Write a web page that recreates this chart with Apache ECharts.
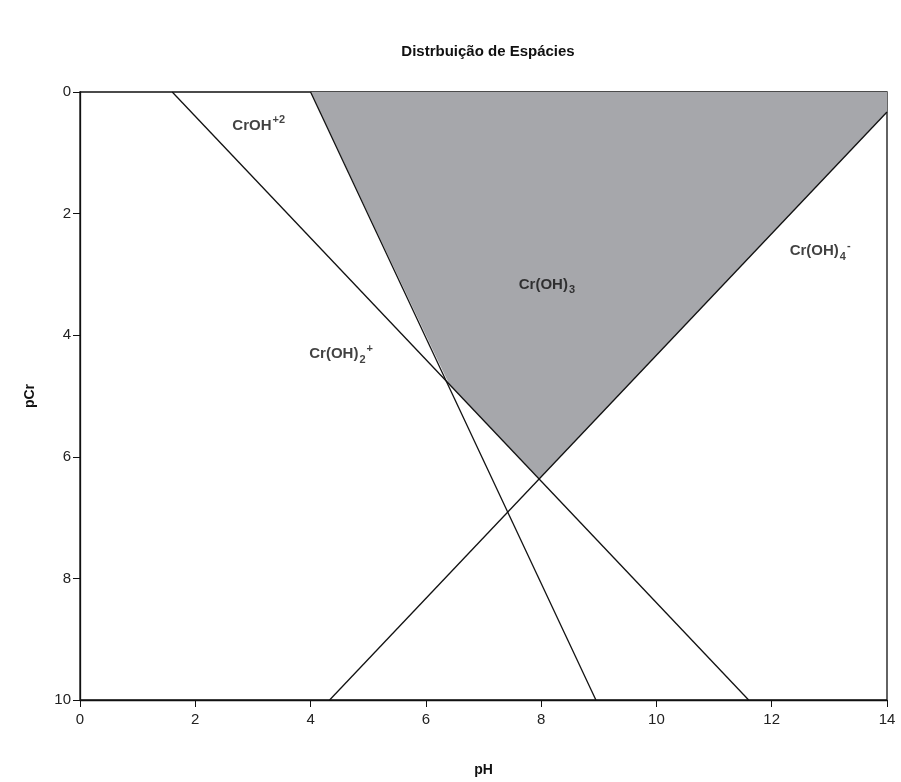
<!DOCTYPE html>
<html><head><meta charset="utf-8">
<script src="https://cdn.jsdelivr.net/npm/echarts@6/dist/echarts.min.js"></script>
<style>html,body{margin:0;padding:0;background:#fff}#c{width:901px;height:782px}</style>
</head><body><div id="c"></div>
<script>
var xTicks = [0, 2, 4, 6, 8, 10, 12, 14];
var yTicks = [0, 2, 4, 6, 8, 10];
var line1 = [[1.6, 0], [11.6, 10]];
var line2 = [[4.0, 0], [8.95, 10]];
var line3 = [[4.33, 10], [14, 0.33]];
var regionOH3 = [[4.0, 0], [14, 0], [14, 0.33], [7.97, 6.36], [6.4, 4.8]];
var labelNames = ['CrOH+2', 'Cr(OH)3', 'Cr(OH)2+', 'Cr(OH)4-'];
var labelPos = [[3.1, 0.55], [8.1, 3.17], [4.53, 4.31], [12.84, 2.62]];
var labelRich = [
  '{b|CrOH}{sup|+2}',
  '{b|Cr(OH)}{sub|3}',
  '{b|Cr(OH)}{sub|2}{sup|+}',
  '{b|Cr(OH)}{sub|4}{sup|-}'
];

var chart = echarts.init(document.getElementById('c'));
var font = 'Liberation Sans, Arial, sans-serif';
var lineStyle = {color: '#111', width: 1.3};
function lineSeries(d) {
  return {type: 'line', data: d, symbol: 'none', lineStyle: lineStyle, z: 3, silent: true};
}
chart.setOption({
  animation: false,
  title: {text: 'Distrbuição de Espácies', left: 483, textAlign: 'center', top: 39,
    textStyle: {fontFamily: font, fontWeight: 'bold', fontSize: 15, color: '#111'}},
  grid: {left: 80, right: 14, top: 92, bottom: 77, show: true, borderColor: '#111', borderWidth: 1.3},
  xAxis: {type: 'value', min: 0, max: 14, interval: 2, position: 'bottom',
    name: 'pH', nameLocation: 'middle', nameGap: 63,
    nameTextStyle: {fontFamily: font, fontWeight: 'bold', fontSize: 14, color: '#111'},
    axisLine: {show: true, onZero: false, lineStyle: {color: '#111', width: 1.3}},
    axisTick: {show: true, length: 7, lineStyle: {color: '#111'}},
    axisLabel: {fontFamily: font, fontSize: 15, color: '#222', margin: 12,
      formatter: function (v) { return xTicks.indexOf(v) >= 0 ? String(v) : ''; }},
    splitLine: {show: false}},
  yAxis: {type: 'value', min: 0, max: 10, interval: 2, inverse: true,
    name: 'pCr', nameLocation: 'middle', nameGap: 43, nameRotate: 90,
    nameTextStyle: {fontFamily: font, fontWeight: 'bold', fontSize: 14, color: '#111'},
    axisLine: {show: true, onZero: false, lineStyle: {color: '#111', width: 1.3}},
    axisTick: {show: true, length: 7, lineStyle: {color: '#111'}},
    axisLabel: {fontFamily: font, fontSize: 15, color: '#222', margin: 9,
      formatter: function (v) { return yTicks.indexOf(v) >= 0 ? String(v) : ''; }},
    splitLine: {show: false}},
  series: [
    {type: 'custom', silent: true, z: 1, data: [0],
      renderItem: function (params, api) {
        var pts = regionOH3.map(function (p) { return api.coord(p); });
        return {type: 'polygon', shape: {points: pts}, style: {fill: '#a6a7ab', stroke: 'none'}};
      }},
    lineSeries(line1), lineSeries(line2), lineSeries(line3),
    {type: 'scatter', symbolSize: 0, z: 5, silent: true,
      data: labelPos.map(function (p, i) { return {value: p, name: labelNames[i]}; }),
      label: {show: true, position: 'inside',
        formatter: function (p) { return labelRich[p.dataIndex]; },
        rich: {
          b: {fontFamily: font, fontWeight: 'bold', fontSize: 15, color: '#111', lineHeight: 22, verticalAlign: 'middle'},
          sup: {fontFamily: font, fontWeight: 'bold', fontSize: 11, color: '#111', lineHeight: 22, verticalAlign: 'top', padding: [0, 0, 8, 1]},
          sub: {fontFamily: font, fontWeight: 'bold', fontSize: 11, color: '#111', lineHeight: 22, verticalAlign: 'bottom', padding: [8, 0, 0, 1]}
        }}}
  ]
});
</script></body></html>
